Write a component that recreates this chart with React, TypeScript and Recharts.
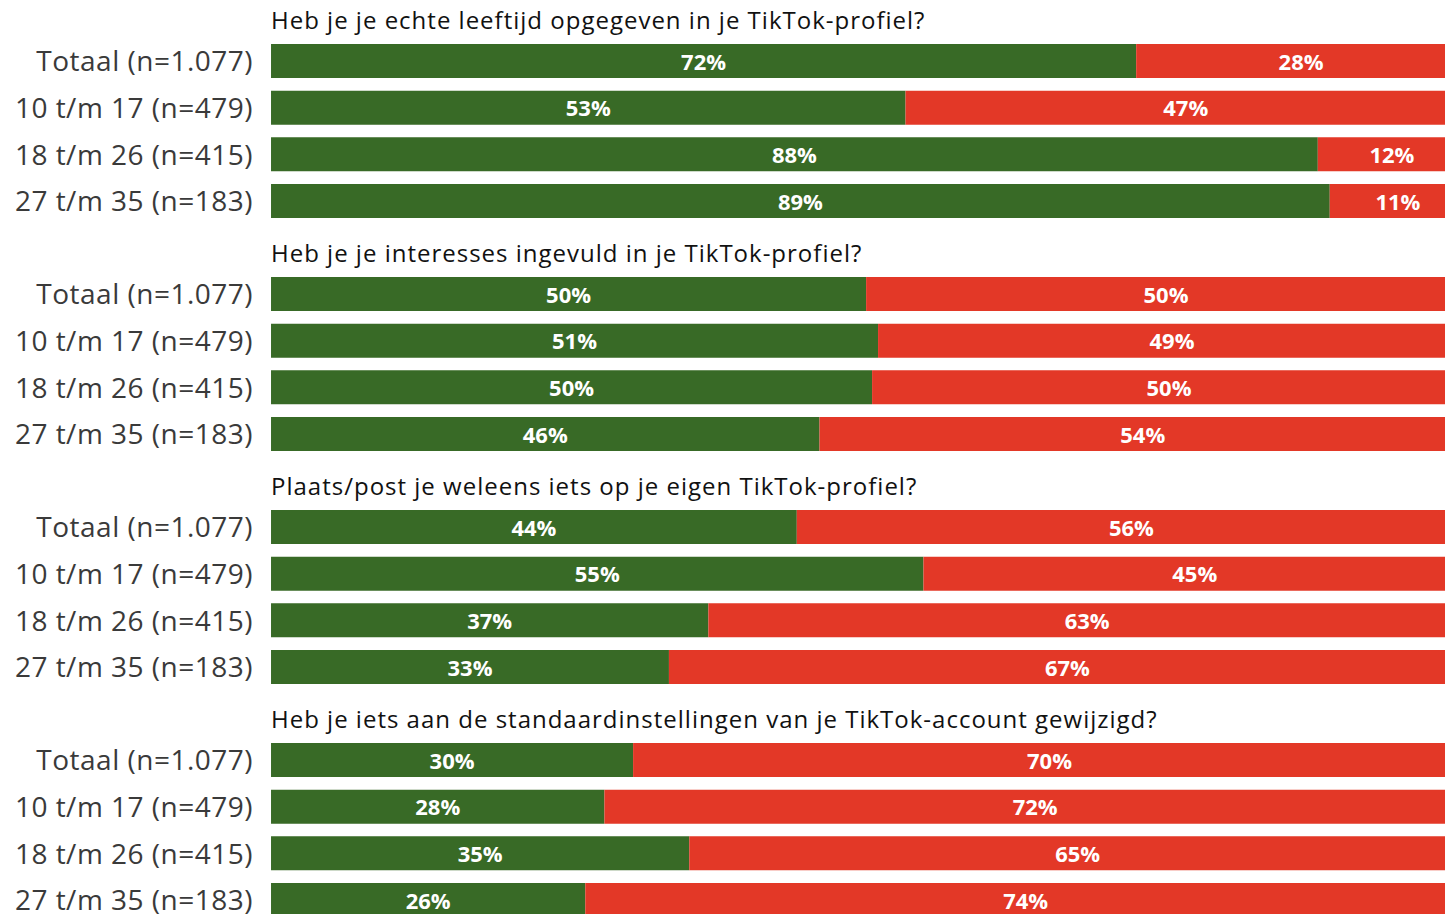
import { Bar, BarChart, LabelList, XAxis, YAxis } from "recharts";

const groups = ["Totaal (n=1.077)", "10 t/m 17 (n=479)", "18 t/m 26 (n=415)", "27 t/m 35 (n=183)"];

const questions = [
  "Heb je je echte leeftijd opgegeven in je TikTok-profiel?",
  "Heb je je interesses ingevuld in je TikTok-profiel?",
  "Plaats/post je weleens iets op je eigen TikTok-profiel?",
  "Heb je iets aan de standaardinstellingen van je TikTok-account gewijzigd?",
];

// ja / nee per vraag, in de volgorde van groups
const yesQ1 = [72.4, 53.1, 87.6, 88.6];
const noQ1 = [27.6, 46.9, 12.4, 11.4];
const yesQ2 = [49.8, 50.8, 50.3, 45.9];
const noQ2 = [50.2, 49.2, 49.7, 54.1];
const yesQ3 = [44.0, 54.6, 36.6, 33.3];
const noQ3 = [56.0, 45.4, 63.4, 66.7];
const yesQ4 = [30.3, 27.9, 35.0, 26.3];
const noQ4 = [69.7, 72.1, 65.0, 73.7];

const yesAll = [yesQ1, yesQ2, yesQ3, yesQ4];
const noAll = [noQ1, noQ2, noQ3, noQ4];

const GREEN = "#386a26";
const RED = "#e33827";
const FONT = "'Open Sans', 'Noto Sans', sans-serif";

const BAND = 46.67;
const SECTION_STEP = 233;
const FIRST_BAR_TOP = 44;

function Section({ index }: { index: number }) {
  const data = groups.map((g, i) => ({ group: g, ja: yesAll[index][i], nee: noAll[index][i] }));
  const barTop = FIRST_BAR_TOP + index * SECTION_STEP;
  const chartTop = barTop - (BAND / 2 - 17);
  const pct = (v: any) => `${Math.round(Number(v))}%`;
  return (
    <>
      <div
        style={{
          position: "absolute",
          left: 271,
          top: barTop - 39,
          fontFamily: FONT,
          fontSize: 24,
          lineHeight: "30px",
          color: "#111",
          whiteSpace: "nowrap",
          letterSpacing: 1,
        }}
      >
        {questions[index]}
      </div>
      <div style={{ position: "absolute", left: 0, top: chartTop }}>
        <BarChart
          width={1466}
          height={BAND * 4}
          data={data}
          layout="vertical"
          margin={{ top: 0, right: 0, bottom: 0, left: 0 }}
        >
          <XAxis type="number" domain={[0, 100]} hide />
          <YAxis
            type="category"
            dataKey="group"
            width={271}
            axisLine={false}
            tickLine={false}
            tickSize={0}
            tickMargin={18}
            interval={0}
            tick={{ fill: "#3a3a3a", fontSize: 28, fontFamily: FONT, letterSpacing: 0.5 }}
          />
          <Bar dataKey="ja" stackId="a" fill={GREEN} barSize={34} isAnimationActive={false}>
            <LabelList dataKey="ja" position="center" formatter={pct} fill="#fff" fontSize={22} fontWeight={700} fontFamily={FONT} dy={1} />
          </Bar>
          <Bar dataKey="nee" stackId="a" fill={RED} barSize={34} isAnimationActive={false}>
            <LabelList dataKey="nee" position="center" formatter={pct} fill="#fff" fontSize={22} fontWeight={700} fontFamily={FONT} dy={1} />
          </Bar>
        </BarChart>
      </div>
    </>
  );
}

export default function App() {
  return (
    <div
      style={{
        position: "absolute",
        left: 0,
        top: 0,
        width: 1445,
        height: 914,
        overflow: "hidden",
        background: "#fff",
      }}
    >
      {questions.map((_, i) => (
        <Section key={i} index={i} />
      ))}
    </div>
  );
}
